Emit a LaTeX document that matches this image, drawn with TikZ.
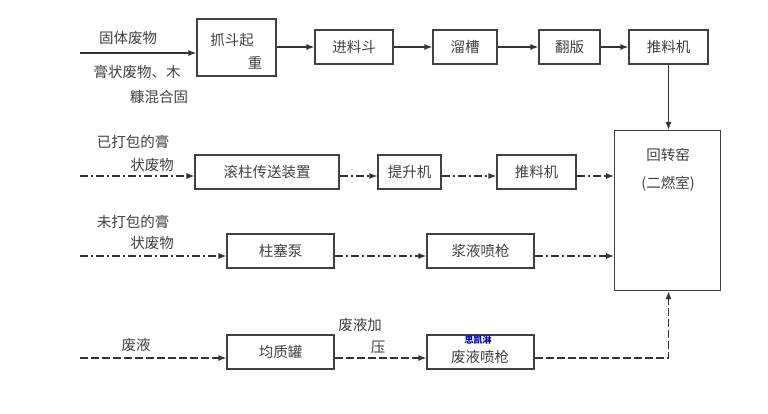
\documentclass[tikz,border=0pt]{standalone}
\usepackage{fontspec}
\setmainfont{Noto Sans CJK SC}
\usetikzlibrary{arrows.meta}
\tikzset{every picture/.style={line width=1.1pt}}
\tikzset{
  unit/.style={draw=black!75,minimum height=34pt,inner sep=1pt,text=black!75},
  flow/.style={-{Latex[length=8pt,width=6pt]},draw=black!80,line width=1.4pt},
  dashdot/.style={flow,dash pattern=on 8pt off 3pt on 2pt off 3pt},
  dashline/.style={flow,dash pattern=on 8pt off 3pt},
  lbl/.style={text=black!75,inner sep=0pt}
}
\begin{document}
\begin{tikzpicture}[x=1pt,y=-1pt,font=\fontsize{14.5pt}{16pt}\selectfont]
  \useasboundingbox (0,0) rectangle (768,414);
  % row 1
  \coordinate (s1) at (80,53);
  \node[unit,minimum width=79pt,minimum height=57pt] (grab) at (236.5,47.5) {};
  \node[lbl] at (232,40) {抓斗起};
  \node[lbl] at (255,63) {重};
  \node[unit,minimum width=78pt] (hopper) at (354,47) {进料斗};
  \node[unit,minimum width=64pt] (chute) at (465,47) {溜槽};
  \node[unit,minimum width=61pt] (flap) at (569.5,47) {翻版};
  \node[unit,minimum width=79pt] (pusherA) at (668.5,47) {推料机};
  \node[unit,minimum width=106pt,minimum height=160pt,anchor=north west] (kiln) at (614,130) {};
  \node[lbl] at (668,155) {回转窑};
  \node[lbl] at (668,184) {(二燃室)};
  \node[lbl] at (128,38) {固体废物};
  \node[lbl] at (137,72) {膏状废物、木};
  \node[lbl] at (159,97) {糠混合固};
  \draw[flow] (s1) -- (grab.west |- s1);
  \draw[flow] (grab.east |- hopper) -- (hopper);
  \draw[flow] (hopper) -- (chute);
  \draw[flow] (chute) -- (flap);
  \draw[flow] (flap) -- (pusherA);
  \draw[flow] (pusherA) -- (kiln.north -| pusherA);
  % row 2
  \coordinate (s2) at (80,176);
  \node[unit,minimum width=144pt] (roller) at (267,172) {滚柱传送装置};
  \node[unit,minimum width=63pt] (lift) at (409.5,172) {提升机};
  \node[unit,minimum width=79pt] (pusherB) at (536.5,172) {推料机};
  \node[lbl] at (133,142) {已打包的膏};
  \node[lbl] at (152,165) {状废物};
  \draw[dashdot] (s2) -- (roller.west |- s2);
  \draw[dashdot] (roller.east |- s2) -- (lift.west |- s2);
  \draw[dashdot] (lift.east |- s2) -- (pusherB.west |- s2);
  \draw[dashdot] (pusherB.east |- s2) -- (kiln.west |- s2);
  % row 3
  \coordinate (s3) at (80,256);
  \node[unit,minimum width=107pt] (pump) at (280.5,251) {柱塞泵};
  \node[unit,minimum width=107pt] (slurry) at (480.5,251) {浆液喷枪};
  \node[lbl] at (133,222) {未打包的膏};
  \node[lbl] at (152,243) {状废物};
  \draw[dashdot] (s3) -- (pump.west |- s3);
  \draw[dashdot] (pump.east |- s3) -- (slurry.west |- s3);
  \draw[dashdot] (slurry.east |- s3) -- (kiln.west |- s3);
  % row 4
  \coordinate (s4) at (80,358);
  \node[unit,minimum width=107pt] (tank) at (280.5,352) {均质罐};
  \node[unit,minimum width=107pt] (liquid) at (480.5,352) {};
  \node[lbl] at (480,357) {废液喷枪};
  \node[lbl,text=blue!70!black,font=\fontsize{9pt}{10pt}\selectfont\bfseries] at (478,340) {思凯淋};
  \node[lbl] at (136,345) {废液};
  \node[lbl] at (360,325) {废液加};
  \node[lbl] at (378,347) {压};
  \draw[dashline] (s4) -- (tank.west |- s4);
  \draw[dashline] (tank.east |- s4) -- (liquid.west |- s4);
  \draw[dashline] (liquid.east |- s4) -| (kiln.south -| pusherA);
\end{tikzpicture}
\end{document}
